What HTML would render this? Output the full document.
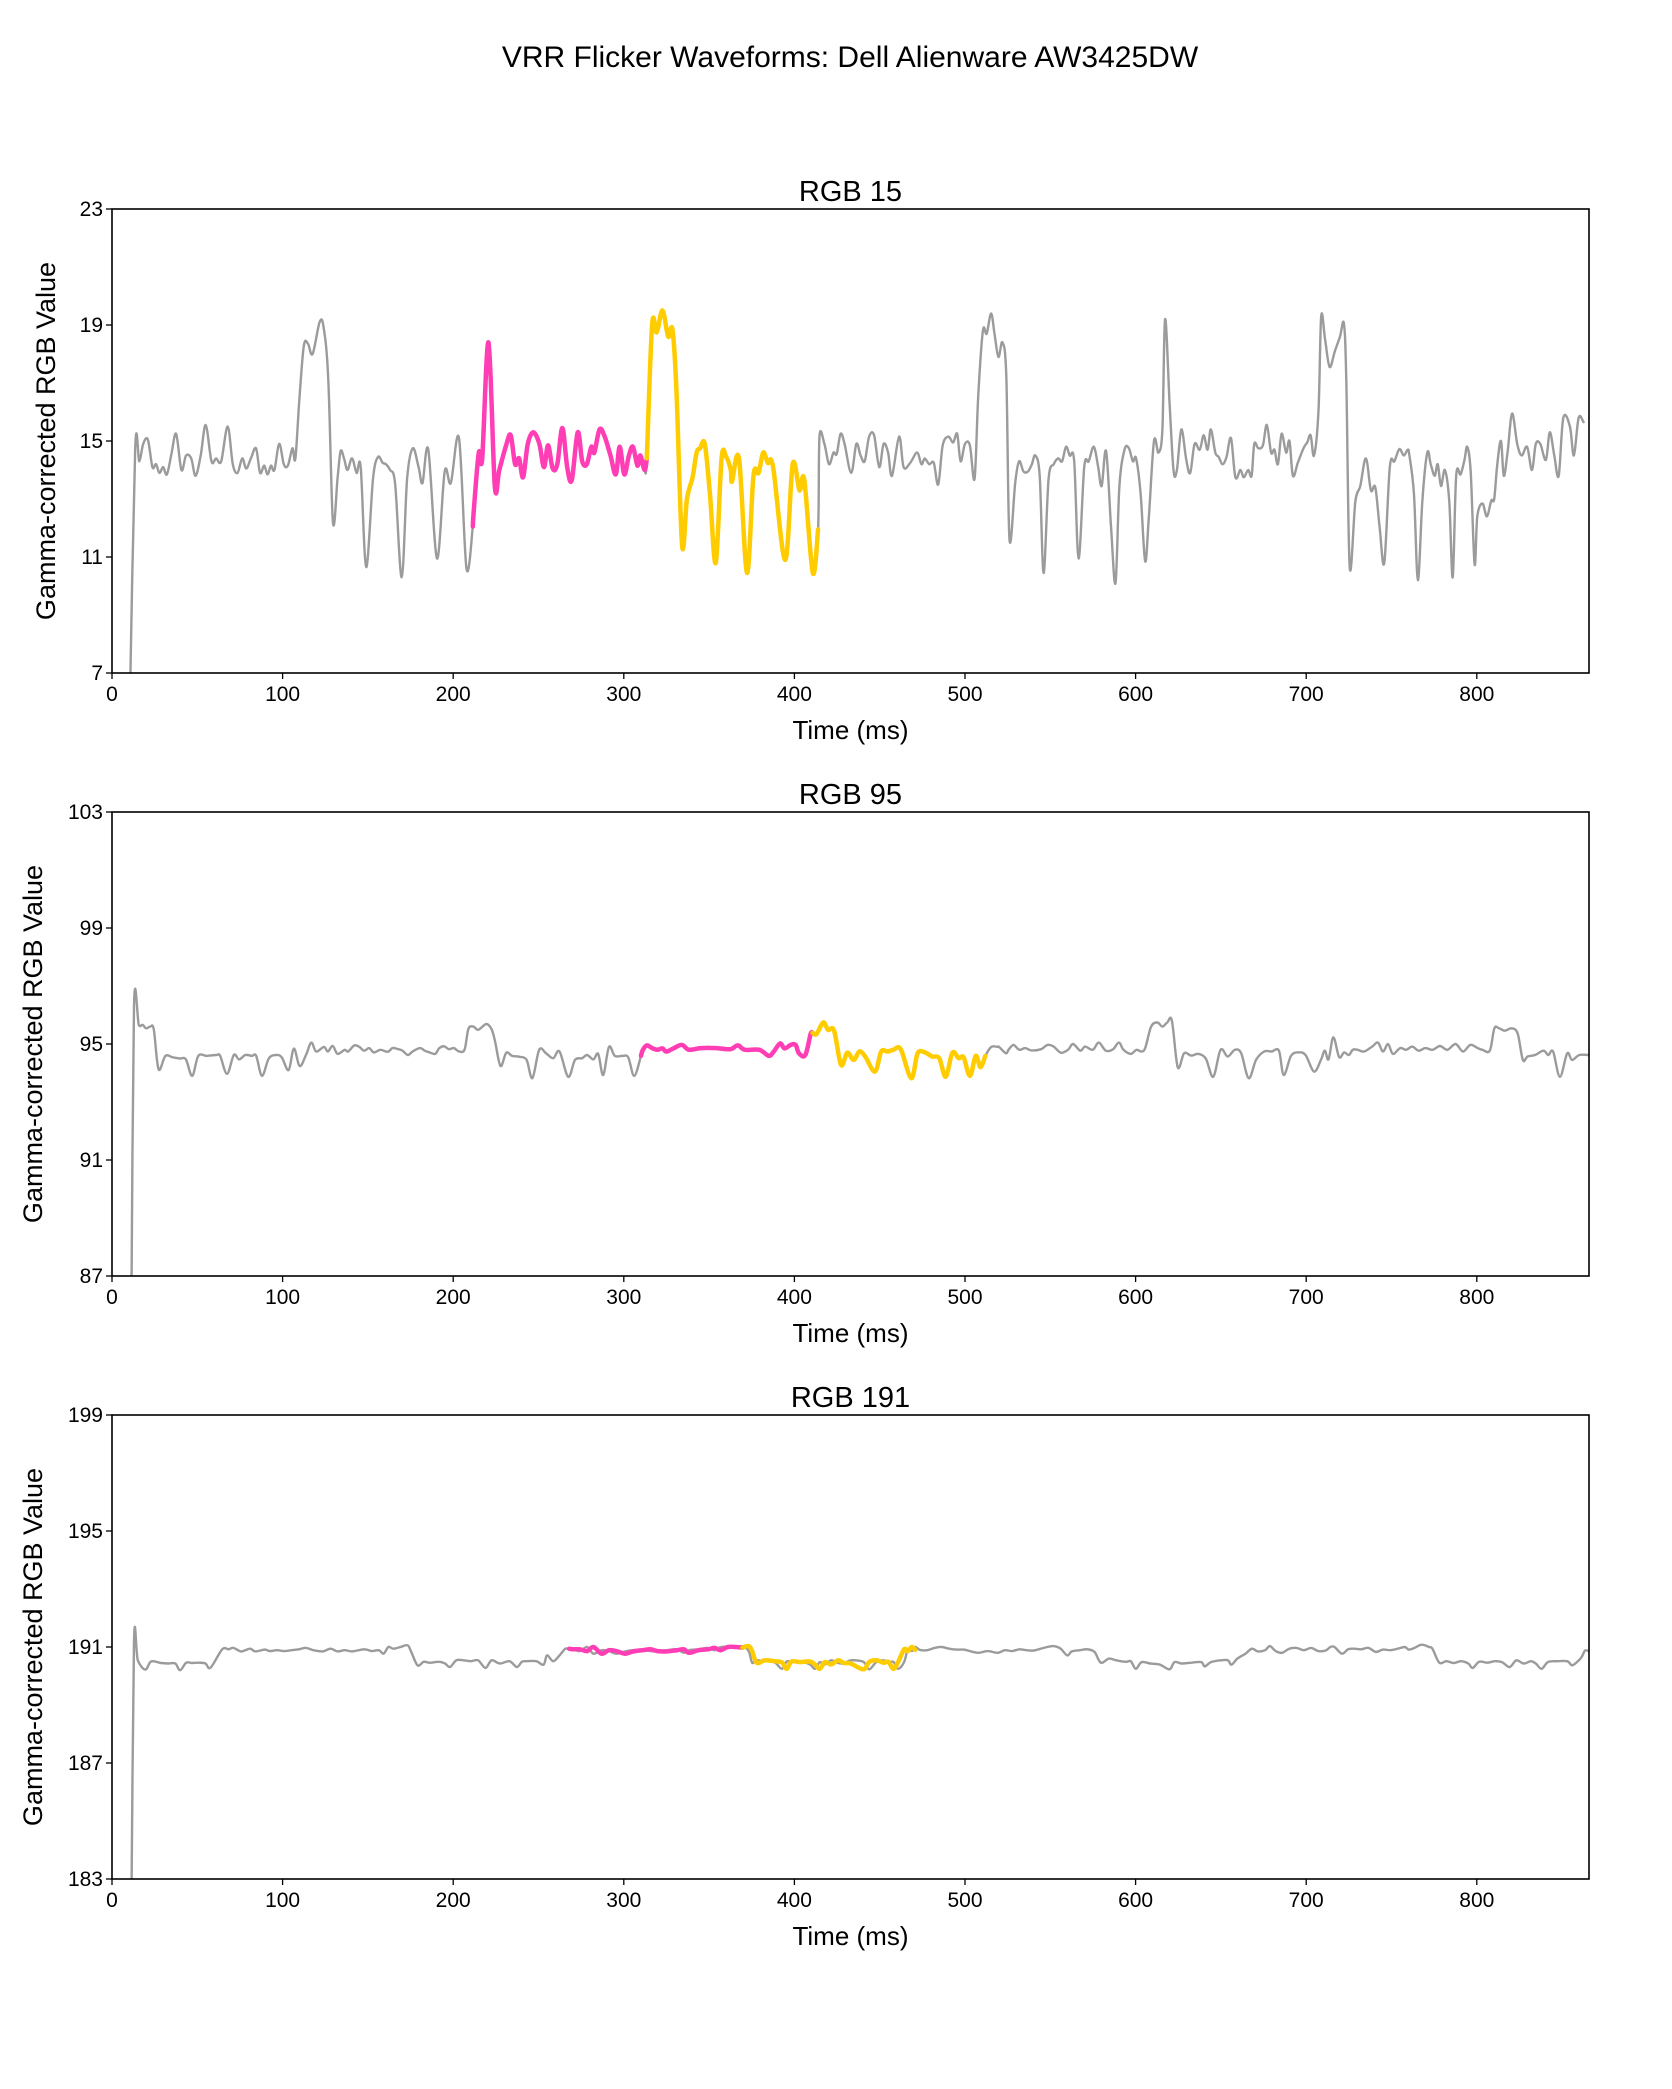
<!DOCTYPE html>
<html><head><meta charset="utf-8"><style>
html,body{margin:0;padding:0;background:#fff;}
svg{display:block;font-family:"Liberation Sans",sans-serif;}
</style></head><body>
<svg id="fig" width="1672" height="2089" viewBox="0 0 1672 2089" xmlns="http://www.w3.org/2000/svg">
<text x="850" y="67" font-size="30" text-anchor="middle" fill="#000">VRR Flicker Waveforms: Dell Alienware AW3425DW</text>
</svg>
<script>
// ---- Chart 1: RGB 15 ----
const c1Time = [10.5,13.6,16,18.3,21,23.7,25.8,27.8,30,32.2,35,37.6,40.7,43.4,46.4,49,52,54.9,58.3,61,64,67.8,70.8,73.6,76.3,78.7,81.4,84.4,86.8,89.2,91.2,93.2,95.2,98,100.7,103.1,105.8,107.5,110,112.5,114.9,117.6,121.7,124.1,126.8,129.5,132.2,134,136,138,140.7,143.4,145.8,149,153,155.9,158.6,160.6,163,166,169.8,173,176.3,179.7,182,185.4,190.5,195,198.6,203.4,207.8,211.5,212.2,215,217,220.7,224.4,227,231,233.7,236.3,238.6,241,243.7,247,250.5,253.2,255.6,258.3,261,264,266.8,269.5,273,275.6,278.3,281,282.7,285.8,288.8,292.2,295.3,297.6,300.3,303,305.4,308,309.7,312.2,313.5,316.6,319.3,322.7,326,328.5,330.8,334.2,337,340.3,342.7,344.7,347.5,350.5,353.9,357.3,360,362.7,363.4,367.5,372.2,376,379,381.7,384.4,387.5,394.6,399,403,405.8,410.8,413.9,414.7,417.6,420.3,422.9,424.8,427.1,429.4,433.3,436.3,438.8,441.2,443.8,446.7,449.7,452.3,454.9,457.2,461.4,464,467.9,471.9,474.5,476.4,479,481.7,484.3,486.9,490.2,493.1,495.4,497.4,500,502.9,505.6,507.8,510.5,512.7,515.3,517.3,519.6,521.9,524.2,526.1,529.4,531.7,534.3,536.9,539.2,541.2,543.8,546.1,549,552,554.6,556.9,559.2,561.4,564,566.6,569.9,572.5,575.5,578.1,580.1,582.7,585.6,588.2,590.5,593.5,596.1,598.4,600.3,603,605.6,607.8,610.8,613.4,615.7,617.3,619.9,622.2,624.2,626.8,629.7,632,634.6,637.6,639.9,642.2,644.1,646.7,648.7,651,653.3,655.9,658.5,661.4,663.4,666,668,669.6,671.9,674.6,676.9,679.4,681.4,683.4,685.6,688.2,690.2,692.2,695.1,698.4,700.6,702.6,704.6,707.2,708.8,711.1,713.7,716.8,719.8,722.1,723.5,725.5,728.8,731.7,735,737.9,740.5,743.1,745.8,749,751.7,754.6,757.2,759.5,760.5,763.2,765.5,768.1,771,773,775.3,777.1,779,781.3,783.9,785.9,787.9,790.5,792.8,794.4,796.4,798.7,800.3,803.3,805.9,808.5,810.2,812,814.2,815.8,818.1,820.7,823.7,826.3,829.5,832.3,834.6,837.2,840.5,842.8,845.4,848,850.7,854.6,856.9,859.7,862.6,864.3,866];
const c1Value = [6,14.75,14.3,14.9,15.05,14.1,14.2,13.9,14.1,13.85,14.6,15.25,14.0,14.5,14.4,13.8,14.5,15.55,14.3,14.4,14.3,15.5,14.2,13.9,14.4,14.05,14.4,14.75,13.9,14.15,13.85,14.15,14.0,14.9,14.2,14.15,14.75,14.4,16.6,18.3,18.35,18.0,19.1,18.9,17.1,12.2,13.7,14.65,14.4,14.0,14.4,13.9,14.1,10.65,13.7,14.45,14.25,14.2,14.0,13.5,10.3,13.7,14.75,14.1,13.55,14.7,10.95,13.95,13.55,15.1,10.6,12.05,12.7,14.6,14.4,18.4,13.45,14.0,14.85,15.2,14.2,14.4,13.75,14.9,15.3,14.9,14.1,14.85,14.05,14.2,15.45,14.1,13.65,15.3,14.3,14.2,14.8,14.6,15.4,15.15,14.5,13.85,14.8,13.85,14.5,14.8,14.15,14.5,14.0,14.4,19.0,18.75,19.5,18.6,18.85,16.85,11.4,13.0,13.75,14.6,14.75,14.9,13.15,10.8,14.4,14.45,14.0,13.6,14.4,10.45,13.8,13.9,14.6,14.25,14.1,10.9,14.2,13.3,13.65,10.45,11.95,15.15,14.9,14.2,14.6,14.55,15.25,14.9,13.9,14.9,14.5,14.3,15.15,15.2,14.1,14.9,14.6,13.8,15.15,14.1,14.25,14.6,14.2,14.4,14.2,14.25,13.5,14.85,15.15,14.95,15.25,14.3,14.9,14.85,13.7,16.6,18.8,18.7,19.4,18.7,17.9,18.4,17.25,11.6,13.55,14.3,13.95,13.95,14.2,14.5,13.8,10.45,13.7,14.2,14.4,14.3,14.8,14.5,14.3,10.95,14.1,14.3,14.8,14.1,13.45,14.65,12.05,10.1,13.45,14.7,14.75,14.3,14.4,13.15,10.85,12.4,15.0,14.6,15.4,19.2,16.35,14.0,14.0,15.4,14.35,13.9,14.9,14.7,15.2,14.7,15.4,14.6,14.45,14.2,14.45,15.1,13.75,14.0,13.75,14.0,13.8,14.9,14.75,14.85,15.55,14.6,14.7,14.2,15.25,14.6,15.0,13.8,14.25,14.75,14.95,15.2,14.5,16.05,19.3,18.5,17.55,18.1,18.6,19.05,17.1,10.65,12.9,13.45,14.4,13.3,13.4,12.0,10.8,14.1,14.3,14.72,14.5,14.7,14.5,13.15,10.2,12.95,14.6,14.2,13.8,14.2,13.45,14.0,12.9,10.3,13.8,13.85,14.35,14.8,13.95,10.75,12.4,12.85,12.4,12.95,13.0,14.2,15.0,13.8,14.65,15.95,14.9,14.5,14.8,14.0,14.9,14.9,14.35,15.3,14.5,13.8,15.8,15.5,14.5,15.8,15.65,15.6];
const c1PinkTime = [211.5,212.2,215,217,220.7,224.4,227,231,233.7,236.3,238.6,241,243.7,247,250.5,253.2,255.6,258.3,261,264,266.8,269.5,273,275.6,278.3,281,282.7,285.8,288.8,292.2,295.3,297.6,300.3,303,305.4,308,309.7,312.2,313.5];
const c1PinkValue = [12.05,12.7,14.6,14.4,18.4,13.45,14.0,14.85,15.2,14.2,14.4,13.75,14.9,15.3,14.9,14.1,14.85,14.05,14.2,15.45,14.1,13.65,15.3,14.3,14.2,14.8,14.6,15.4,15.15,14.5,13.85,14.8,13.85,14.5,14.8,14.15,14.5,14.0,14.4];
const c1YellowTime = [313.5,316.6,319.3,322.7,326,328.5,330.8,334.2,337,340.3,342.7,344.7,347.5,350.5,353.9,357.3,360,362.7,363.4,367.5,372.2,376,379,381.7,384.4,387.5,394.6,399,403,405.8,410.8,413.9];
const c1YellowValue = [14.4,19.0,18.75,19.5,18.6,18.85,16.85,11.4,13.0,13.75,14.6,14.75,14.9,13.15,10.8,14.4,14.45,14.0,13.6,14.4,10.45,13.8,13.9,14.6,14.25,14.1,10.9,14.2,13.3,13.65,10.45,11.95];
const c1YTicks = [7,11,15,19,23];

// ---- Chart 2: RGB 95 ----
const c2Time = [11.4,12.9,15.7,18,20,22.5,24.5,27.3,31.3,35.6,39.9,43.3,47,50.6,55.5,61.2,63.4,67.4,71.4,74.5,78.2,81.9,84.5,87.9,91.9,96.1,99.5,103.5,106.6,110,113.7,116.8,119.7,124.2,126.5,129.4,132.2,136.4,138.4,142.1,145,147.8,150.7,153.5,157.3,161.6,164.4,167.2,170.1,173.4,176.2,180.5,183.3,186.1,189.5,191.9,194.7,197.5,200.4,203.2,206.6,208.9,211.8,214.7,219.4,222.5,224.5,227.7,231.1,234.5,238.8,243,246.4,250.4,254.4,258.6,262.3,267.4,271.4,275.6,278.5,282.2,285,287.9,291.3,294.7,299.2,302.6,306.1,310.1,311.2,313.5,316.9,319.7,322.6,324.8,328.2,333.9,338.2,345.3,354.4,362.4,366.8,371,379.5,385,387.9,391.6,394.2,397.9,400.7,402.7,406.4,409.5,410.6,412.9,416.9,419.7,423.3,427.3,431,434.7,438.1,441.5,447.2,450.9,454.6,458,462.3,468.5,472.2,476.5,480.7,484.9,488.7,492.6,496.3,499.2,502.9,506.3,509.1,511.9,515.4,519.1,520,524,525.5,528.4,531.8,535.2,538.9,544.6,548.3,552,556.2,560.4,563.3,567.6,570.4,574.9,578.4,582.6,586.8,590.2,592.9,597.2,600.5,603.4,605.6,609.1,612.8,615.7,618.5,621.3,624.7,628.4,632.6,636.9,641.2,645.5,649.8,654,658.2,661.9,666.3,670.6,675.4,679.7,684,686.8,691.1,695.3,699.6,704.6,708.6,710.9,713.1,715.9,719.3,722.2,725,727.3,730.1,734,738.6,742.1,745,748,750.8,755.1,758.5,762.2,765.9,769.9,774.1,778.4,782.7,787.6,791.9,796.2,800.5,803.3,807.6,810.3,813.1,816.5,820.2,823.9,827,829.8,834.1,839.1,841.9,844.7,848.7,853,855.8,860.1,865.6];
const c2Value = [86,96.31,95.66,95.66,95.54,95.6,95.5,94.13,94.59,94.54,94.5,94.47,93.9,94.59,94.59,94.62,94.59,93.97,94.62,94.47,94.62,94.59,94.59,93.9,94.5,94.62,94.54,94.1,94.84,94.24,94.62,95.05,94.74,94.9,94.74,94.93,94.66,94.8,94.74,94.95,94.9,94.77,94.86,94.71,94.8,94.73,94.86,94.83,94.78,94.62,94.74,94.86,94.77,94.71,94.66,94.86,94.92,94.82,94.86,94.75,94.8,95.52,95.6,95.49,95.69,95.51,95.1,94.24,94.7,94.59,94.56,94.45,93.82,94.8,94.68,94.51,94.74,93.87,94.45,94.51,94.62,94.47,94.66,93.93,94.9,94.59,94.59,94.54,93.9,94.59,94.8,94.95,94.85,94.8,94.85,94.74,94.82,94.97,94.8,94.86,94.86,94.82,94.95,94.8,94.8,94.59,94.74,95.02,94.85,94.97,94.97,94.68,94.62,95.34,95.39,95.34,95.74,95.49,95.46,94.28,94.7,94.45,94.74,94.57,94.05,94.74,94.74,94.8,94.82,93.82,94.68,94.71,94.57,94.51,93.87,94.7,94.51,94.54,93.9,94.59,94.2,94.59,94.9,94.9,94.9,94.68,94.8,94.97,94.8,94.86,94.78,94.82,94.97,94.91,94.7,94.8,95.0,94.77,94.91,94.8,95.05,94.77,94.82,95.05,94.8,94.66,94.8,94.74,94.86,95.6,95.74,95.6,95.74,95.8,94.2,94.68,94.6,94.66,94.49,93.87,94.8,94.57,94.8,94.68,93.82,94.45,94.74,94.74,94.77,93.93,94.59,94.71,94.62,94.05,94.45,94.77,94.47,95.23,94.55,94.71,94.62,94.8,94.8,94.74,94.91,95.05,94.74,95.0,94.66,94.86,94.8,94.91,94.77,94.86,94.8,94.93,94.8,95.0,94.74,94.97,94.86,94.8,94.77,95.54,95.54,95.46,95.54,95.37,94.45,94.57,94.62,94.77,94.62,94.74,93.87,94.68,94.45,94.62,94.62];
const c2PinkTime = [310.1,311.2,313.5,316.9,319.7,322.6,324.8,328.2,333.9,338.2,345.3,354.4,362.4,366.8,371,379.5,385,387.9,391.6,394.2,397.9,400.7,402.7,406.4,409.5,410.6];
const c2PinkValue = [94.59,94.8,94.95,94.85,94.8,94.85,94.74,94.82,94.97,94.8,94.86,94.86,94.82,94.95,94.8,94.8,94.59,94.74,95.02,94.85,94.97,94.97,94.68,94.62,95.34,95.39];
const c2YellowTime = [410.6,412.9,416.9,419.7,423.3,427.3,431,434.7,438.1,441.5,447.2,450.9,454.6,458,462.3,468.5,472.2,476.5,480.7,484.9,488.7,492.6,496.3,499.2,502.9,506.3,509.1,511.9];
const c2YellowValue = [95.39,95.34,95.74,95.49,95.46,94.28,94.7,94.45,94.74,94.57,94.05,94.74,94.74,94.8,94.82,93.82,94.68,94.71,94.57,94.51,93.87,94.7,94.51,94.54,93.9,94.59,94.2,94.59];
const c2YTicks = [87,91,95,99,103];

// ---- Chart 3: RGB 191 ----
const c3Time = [11.4,12.9,15.1,19.5,22.9,28.6,32.8,37.1,39.9,43.5,46.9,51.1,54.8,57.8,64.6,68.3,71.2,75.4,78.2,81.1,84,89.6,92.5,96.8,101.1,105.3,109.6,113.7,118,123.7,128,132.2,136.5,140.8,147.9,152.2,156.4,159.2,162,164.9,169.1,173.3,175.4,179.1,182.7,186.1,191.8,195.2,198.1,201.8,206.1,210.3,214.6,218.9,222.5,227.3,233,237.3,240.2,243,248.7,253,255,258.6,262.3,265.7,268,270,274.3,278.5,282.2,287,291.3,295.6,300.7,305.5,311.2,315.5,319.7,325.4,331.1,335.3,338.2,343.9,349.6,353.3,356.7,361,365.3,369.5,373.2,375.2,377.9,382.7,388.4,392.7,395.5,398.3,403.4,409.1,412,414.9,417.8,421.6,425.6,429,433,440.4,443.8,448,452.3,455.1,458,460.8,464.3,466.5,468.8,470.8,473.6,477.9,482.2,486.4,490.7,495,499.2,503.5,507.7,513.4,519.1,523.4,527.6,531.9,536.2,540.4,546.1,551.9,556.1,559.9,562.6,567.4,571.6,575.9,579.6,584.4,588.6,594.3,597.2,600.1,603.5,608.6,614.3,619.9,622.8,627.1,632.8,638.5,640.5,644.2,649.8,654.1,656.2,659.7,664.4,668.2,671.6,675.9,678.7,682.1,685.8,690.1,694.3,698.6,702.9,707.1,711.4,714.2,716.6,720.9,724.6,728,732.2,736.5,740.8,745,749.3,753.6,757.8,760.1,763.5,767.7,772,774,778,782.2,786.5,790.7,795,797.6,801.4,806.2,810.5,814.7,819.2,823.2,827.5,831.7,834.6,838,841.7,847.3,853,855.8,858.7,861.5,863.5,865.8];
const c3Value = [182,191.17,190.54,190.22,190.5,190.45,190.43,190.43,190.2,190.46,190.45,190.46,190.43,190.29,190.92,190.92,190.97,190.85,190.89,190.94,190.85,190.91,190.86,190.89,190.86,190.89,190.92,190.97,190.89,190.85,190.94,190.85,190.89,190.85,190.92,190.86,190.89,190.77,191.0,190.94,191.0,191.06,190.83,190.37,190.49,190.46,190.49,190.43,190.31,190.54,190.54,190.51,190.54,190.28,190.54,190.43,190.51,190.31,190.49,190.51,190.51,190.39,190.71,190.51,190.71,190.94,190.92,190.92,190.86,191.0,190.77,190.89,190.86,190.77,190.85,190.89,190.92,190.86,190.85,190.89,190.92,190.8,190.89,190.92,190.97,190.89,191.0,191.0,190.98,191.03,190.86,190.46,190.54,190.51,190.47,190.25,190.5,190.48,190.5,190.4,190.25,190.48,190.4,190.54,190.45,190.43,190.54,190.49,190.23,190.48,190.54,190.46,190.49,190.25,190.48,190.92,190.86,191.0,190.9,190.89,190.97,191.0,190.94,190.91,190.91,190.85,190.8,190.86,190.8,190.89,190.86,190.92,190.89,190.88,190.97,191.03,190.94,190.71,190.85,190.89,190.92,190.83,190.46,190.6,190.54,190.49,190.51,190.25,190.48,190.43,190.39,190.23,190.48,190.43,190.46,190.48,190.33,190.48,190.54,190.54,190.39,190.6,190.77,190.94,190.85,190.89,191.03,190.86,190.8,190.94,190.97,190.89,190.97,190.86,190.88,191.0,191.0,190.77,190.92,190.94,190.92,190.97,190.83,190.91,190.89,190.94,191.0,190.91,190.97,191.08,191.0,190.94,190.46,190.51,190.45,190.51,190.43,190.28,190.49,190.46,190.51,190.48,190.31,190.54,190.43,190.51,190.43,190.25,190.48,190.51,190.51,190.37,190.48,190.66,190.88,190.85];
const c3PinkTime = [268,270,274.3,278.5,282.2,287,291.3,295.6,300.7,305.5,311.2,315.5,319.7,325.4,331.1,335.3,338.2,343.9,349.6,353.3,356.7,361,365.3,369.5];
const c3PinkValue = [190.94,190.92,190.92,190.86,191.0,190.77,190.89,190.86,190.77,190.85,190.89,190.92,190.86,190.85,190.89,190.92,190.8,190.89,190.92,190.97,190.89,191.0,191.0,190.98];
const c3YellowTime = [369.5,373.2,375.2,377.9,382.7,388.4,392.7,395.5,398.3,403.4,409.1,412,414.9,417.8,421.6,425.6,429,433,440.4,443.8,448,452.3,455.1,458,460.8,464.3,466.5,468.8,470.8];
const c3YellowValue = [190.98,191.03,190.86,190.46,190.54,190.51,190.47,190.25,190.5,190.48,190.5,190.4,190.25,190.48,190.4,190.54,190.45,190.43,190.23,190.48,190.54,190.46,190.49,190.25,190.48,190.92,190.86,191.0,190.9];
const c3YTicks = [183,187,191,195,199];

const xTicks = [0,100,200,300,400,500,600,700,800];
const titles = ["RGB 15","RGB 95","RGB 191"];
</script>
<script>
(function(){
const NS="http://www.w3.org/2000/svg";
const svg=document.getElementById('fig');
const L=112,R=1589,H=464,XMAX=(R-L)/1.706;
const tops=[209,812,1415];
const charts=[
 {t:c1Time,v:c1Value,pt:c1PinkTime,pv:c1PinkValue,yt:c1YellowTime,yv:c1YellowValue,ticks:c1YTicks,ylx:46},
 {t:c2Time,v:c2Value,pt:c2PinkTime,pv:c2PinkValue,yt:c2YellowTime,yv:c2YellowValue,ticks:c2YTicks,ylx:33},
 {t:c3Time,v:c3Value,pt:c3PinkTime,pv:c3PinkValue,yt:c3YellowTime,yv:c3YellowValue,ticks:c3YTicks,ylx:33}];
function mk(tag,attrs,parent){const e=document.createElementNS(NS,tag);for(const k in attrs)e.setAttribute(k,attrs[k]);(parent||svg).appendChild(e);return e;}
function smooth(pts){
 let d='M'+pts[0][0].toFixed(1)+' '+pts[0][1].toFixed(1);
 for(let j=0;j<pts.length-1;j++){
  const p0=pts[Math.max(0,j-1)],p1=pts[j],p2=pts[j+1],p3=pts[Math.min(pts.length-1,j+2)];
  const c1x=p1[0]+(p2[0]-p0[0])/6,c1y=p1[1]+(p2[1]-p0[1])/6;
  const c2x=p2[0]-(p3[0]-p1[0])/6,c2y=p2[1]-(p3[1]-p1[1])/6;
  d+=' C'+c1x.toFixed(1)+' '+c1y.toFixed(1)+' '+c2x.toFixed(1)+' '+c2y.toFixed(1)+' '+p2[0].toFixed(1)+' '+p2[1].toFixed(1);
 }
 return d;
}
charts.forEach((c,i)=>{
 const top=tops[i],bot=top+H;
 const ymin=c.ticks[0],ymax=c.ticks[c.ticks.length-1];
 const X=t=>L+t/XMAX*(R-L);
 const Y=v=>top+(ymax-v)/(ymax-ymin)*H;
 const g=mk('g',{});
 
 
 const cp=mk('clipPath',{id:'clip'+i},g);
 mk('rect',{x:L,y:top,width:R-L,height:H},cp);
 const title=mk('text',{x:(L+R)/2,y:top-8,'font-size':29,'text-anchor':'middle',fill:'#000'},g);
 title.textContent=titles[i];
 
 
 function line(ts,vs,color,w,name){
  const pts=ts.map((t,j)=>[X(t),Y(vs[j])]);
  const p=mk('path',{d:smooth(pts),fill:'none',stroke:color,'stroke-width':w,'stroke-linejoin':'round','stroke-linecap':'round','clip-path':'url(#clip'+i+')'},g);
  
  
 }
 line(c.t,c.v,'#9b9b9b',2.4,'waveform-line');
 line(c.pt,c.pv,'#ff3db4',4.5,'pink-highlight-line');
 line(c.yt,c.yv,'#ffcc00',4.5,'yellow-highlight-line');
 const fr=mk('rect',{x:L,y:top,width:R-L,height:H,fill:'none',stroke:'#000','stroke-width':1.6},g);
 
 
 c.ticks.forEach(v=>{
  mk('line',{x1:L-6,x2:L,y1:Y(v),y2:Y(v),stroke:'#000','stroke-width':1.3},g);
  const tx=mk('text',{x:L-9,y:Y(v)+7,'font-size':21,'text-anchor':'end',fill:'#000'},g);
  tx.textContent=v;
  
  
 });
 xTicks.forEach(t=>{
  mk('line',{x1:X(t),x2:X(t),y1:bot,y2:bot+6,stroke:'#000','stroke-width':1.3},g);
  const tx=mk('text',{x:X(t),y:bot+28,'font-size':21,'text-anchor':'middle',fill:'#000'},g);
  tx.textContent=t;
  
  
 });
 const xl=mk('text',{x:(L+R)/2,y:bot+66,'font-size':26,'text-anchor':'middle',fill:'#000'},g);
 xl.textContent='Time (ms)';
 
 
 const yl=mk('text',{x:0,y:0,'font-size':27,'text-anchor':'middle',fill:'#000',transform:'translate('+(c.ylx+9)+','+(top+H/2)+') rotate(-90)'},g);
 yl.textContent='Gamma-corrected RGB Value';
 
 
});
})();
</script>
</body></html>
